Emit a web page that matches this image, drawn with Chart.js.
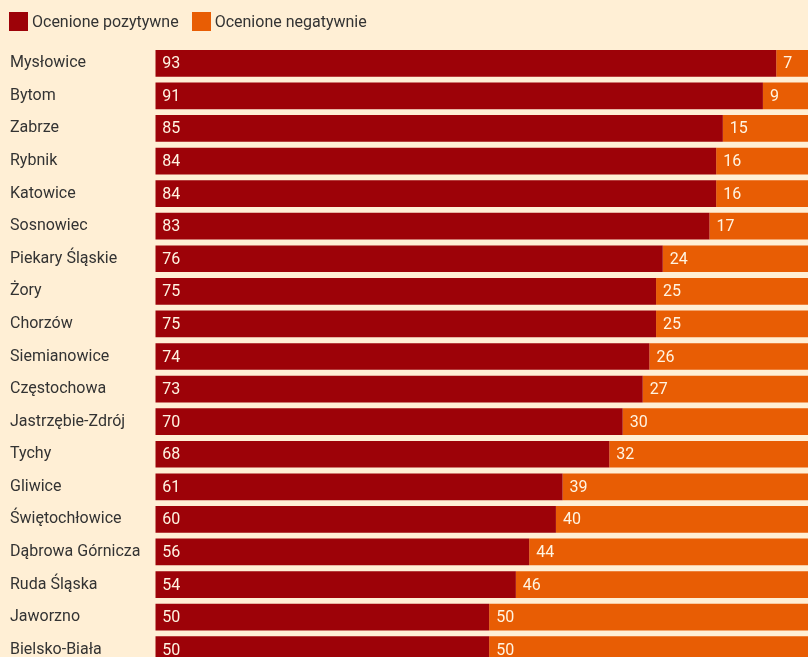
<!DOCTYPE html>
<html>
<head>
<meta charset="utf-8">
<script src="https://cdn.jsdelivr.net/npm/chart.js@4"></script>
<style>
  html, body { margin: 0; padding: 0; background: #ffefd5; overflow: hidden; width: 808px; height: 657px; }
  #wrap { position: absolute; left: 0; top: 0; width: 823px; height: 666px; }
  #legend { position: absolute; left: 9px; top: 12px; display: flex; font-family: Roboto, sans-serif; font-size: 16px; color: #333; z-index: 2; }
  .item { display: flex; align-items: center; height: 19px; margin-right: 13px; }
  .box { width: 19px; height: 19px; margin-right: 4px; box-sizing: border-box; }
</style>
</head>
<body>
<div id="legend"></div>
<div id="wrap"><canvas id="c"></canvas></div>
<script>
const categories = ["Mysłowice","Bytom","Zabrze","Rybnik","Katowice","Sosnowiec","Piekary Śląskie","Żory","Chorzów","Siemianowice","Częstochowa","Jastrzębie-Zdrój","Tychy","Gliwice","Świętochłowice","Dąbrowa Górnicza","Ruda Śląska","Jaworzno","Bielsko-Biała"];
const positive = [93,91,85,84,84,83,76,75,75,74,73,70,68,61,60,56,54,50,50];
const negative = [7,9,15,16,16,17,24,25,25,26,27,30,32,39,40,44,46,50,50];
const seriesNames = ["Ocenione pozytywne","Ocenione negatywnie"];
const colors = ["#9d0208","#e85d04"];

const legend = document.getElementById('legend');
seriesNames.forEach((n, i) => {
  const it = document.createElement('div'); it.className = 'item';
  const b = document.createElement('div'); b.className = 'box'; b.style.background = colors[i];
  const t = document.createElement('span'); t.textContent = n;
  it.appendChild(b); it.appendChild(t); legend.appendChild(it);
});

const valueLabels = {
  id: 'valueLabels',
  afterDatasetsDraw(chart) {
    const ctx = chart.ctx;
    ctx.save();
    ctx.font = '16px Roboto, sans-serif';
    ctx.fillStyle = '#fff4e2';
    ctx.textAlign = 'left';
    ctx.textBaseline = 'middle';
    chart.data.datasets.forEach((ds, di) => {
      const meta = chart.getDatasetMeta(di);
      meta.data.forEach((el, i) => {
        const p = el.getProps(['x','y','base'], true);
        ctx.fillText(String(ds.data[i]), Math.min(p.base, p.x) + 7, p.y + 1);
      });
    });
    ctx.restore();
  }
};

new Chart(document.getElementById('c'), {
  type: 'bar',
  data: {
    labels: categories,
    datasets: [
      { label: seriesNames[0], data: positive, backgroundColor: colors[0], borderWidth: 0, barPercentage: 0.82, categoryPercentage: 1 },
      { label: seriesNames[1], data: negative, backgroundColor: colors[1], borderWidth: 0, barPercentage: 0.82, categoryPercentage: 1 }
    ]
  },
  options: {
    indexAxis: 'y',
    responsive: true,
    maintainAspectRatio: false,
    animation: false,
    layout: { padding: { left: 10, top: 47, right: 0, bottom: 0 } },
    plugins: { legend: { display: false }, tooltip: { enabled: false } },
    scales: {
      x: { stacked: true, min: 0, max: 100, display: false, grid: { display: false } },
      y: {
        stacked: true,
        grid: { display: false },
        border: { display: false },
        ticks: { crossAlign: 'far', color: '#333', font: { family: 'Roboto, sans-serif', size: 16 }, padding: 0 },
        afterFit(scale) { scale.width = 145.3; scale.paddingTop = 0; scale.paddingBottom = 0; }
      }
    }
  },
  plugins: [valueLabels]
});
</script>
</body>
</html>
